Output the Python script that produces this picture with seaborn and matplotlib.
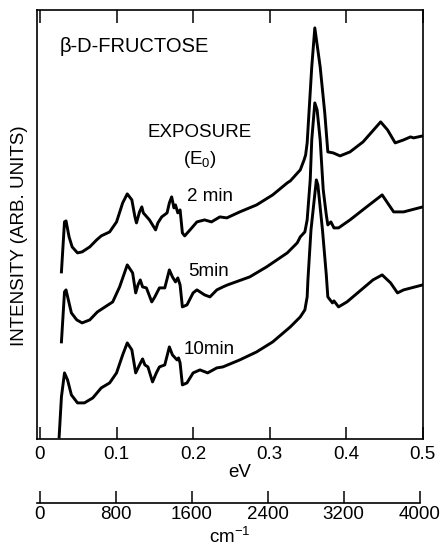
import numpy as np
import pandas as pd
import matplotlib
matplotlib.use('Agg')
import matplotlib.pyplot as plt
import seaborn as sns

# traces: energy loss (eV) vs intensity (arb. units)
ev_2min = [0.028, 0.032, 0.034, 0.038, 0.042, 0.049, 0.055, 0.065, 0.074, 0.080,
           0.091, 0.100, 0.108, 0.114, 0.120, 0.124, 0.126, 0.130, 0.133, 0.135,
           0.143, 0.151, 0.154, 0.159, 0.166, 0.169, 0.172, 0.175, 0.177, 0.180,
           0.183, 0.186, 0.189, 0.196, 0.205, 0.215, 0.224, 0.235, 0.244, 0.261,
           0.283, 0.304, 0.323, 0.327, 0.340, 0.345, 0.347, 0.349, 0.355, 0.359,
           0.366, 0.372, 0.376, 0.383, 0.392, 0.405, 0.422, 0.445, 0.454, 0.464,
           0.475, 0.484, 0.488, 0.500]
int_2min = [167, 217, 218, 202, 192, 186, 187, 192, 199, 203,
            207, 217, 236, 245, 239, 222, 216, 227, 232, 226,
            219, 209, 216, 222, 226, 236, 242, 231, 234, 226,
            229, 206, 203, 209, 217, 219, 217, 222, 221, 227,
            234, 244, 256, 258, 269, 279, 284, 296, 372, 411,
            372, 326, 287, 286, 283, 287, 297, 317, 309, 296,
            299, 302, 301, 303]

ev_5min = [0.028, 0.032, 0.034, 0.041, 0.048, 0.055, 0.065, 0.075, 0.087, 0.095,
           0.104, 0.114, 0.121, 0.125, 0.128, 0.131, 0.134, 0.139, 0.146, 0.150,
           0.156, 0.163, 0.169, 0.173, 0.177, 0.180, 0.183, 0.186, 0.192, 0.200,
           0.205, 0.215, 0.222, 0.231, 0.239, 0.245, 0.274, 0.296, 0.323, 0.336,
           0.340, 0.346, 0.349, 0.353, 0.355, 0.359, 0.362, 0.366, 0.370, 0.374,
           0.376, 0.380, 0.384, 0.390, 0.405, 0.425, 0.447, 0.454, 0.462, 0.475,
           0.500]
int_5min = [97, 147, 149, 126, 119, 116, 119, 127, 133, 137,
            152, 174, 166, 146, 154, 159, 152, 151, 137, 142,
            151, 151, 169, 162, 157, 161, 154, 132, 134, 146,
            149, 144, 142, 149, 152, 154, 162, 172, 186, 196,
            202, 207, 219, 259, 299, 336, 329, 299, 249, 224,
            214, 217, 211, 211, 219, 231, 244, 236, 227, 227,
            232]

ev_10min = [0.025, 0.028, 0.032, 0.036, 0.041, 0.049, 0.058, 0.069, 0.080, 0.091,
            0.100, 0.108, 0.114, 0.120, 0.125, 0.130, 0.134, 0.137, 0.141, 0.147,
            0.152, 0.156, 0.163, 0.169, 0.173, 0.179, 0.181, 0.183, 0.186, 0.192,
            0.200, 0.209, 0.219, 0.231, 0.239, 0.261, 0.283, 0.304, 0.327, 0.340,
            0.346, 0.349, 0.350, 0.354, 0.361, 0.363, 0.369, 0.374, 0.376, 0.382,
            0.384, 0.390, 0.401, 0.435, 0.447, 0.458, 0.467, 0.475, 0.500]
int_10min = [2, 42, 66, 59, 44, 36, 36, 41, 51, 56,
             66, 84, 96, 89, 66, 74, 80, 74, 72, 57,
             66, 72, 74, 92, 84, 79, 81, 76, 54, 56,
             66, 69, 66, 71, 72, 79, 87, 97, 112, 122,
             129, 142, 159, 209, 259, 254, 209, 164, 142, 136,
             138, 132, 137, 159, 164, 156, 146, 149, 154]

exposures = ['2 min', '5min', '10min']
label_ev = [0.192, 0.193, 0.188]
label_int = [242, 167, 89]

ev_ticks = [0, 0.1, 0.2, 0.3, 0.4, 0.5]
ev_ticklabels = ['0', '0.1', '0.2', '0.3', '0.4', '0.5']
cm_ticks = [0, 800, 1600, 2400, 3200, 4000]

EV_TO_CM = 8065.54

df = pd.concat([
    pd.DataFrame({'eV': ev_2min, 'intensity': int_2min, 'exposure': exposures[0]}),
    pd.DataFrame({'eV': ev_5min, 'intensity': int_5min, 'exposure': exposures[1]}),
    pd.DataFrame({'eV': ev_10min, 'intensity': int_10min, 'exposure': exposures[2]}),
], ignore_index=True)

plt.rcParams['font.family'] = ['Liberation Sans', 'DejaVu Sans']
plt.rcParams['mathtext.default'] = 'regular'

fig = plt.figure(figsize=(4.45, 5.5), dpi=100)
ax = fig.add_axes([0.083, 0.202, 0.867, 0.780])

sns.lineplot(data=df, x='eV', y='intensity', hue='exposure', units='exposure',
             estimator=None, sort=False, palette=['black'] * 3, linewidth=2.1,
             legend=False, ax=ax)

ax.set_xlim(-0.004, 0.5)
ax.set_ylim(0, 429)
ax.set_yticks([])
ax.set_xticks(ev_ticks)
ax.set_xticklabels(ev_ticklabels)
ax.tick_params(axis='x', direction='in', length=9, width=1.1, top=True,
               labelsize=13.5, pad=5)
for s in ax.spines.values():
    s.set_linewidth(1.2)

ax.set_xlabel('eV', fontsize=13.5)
ax.xaxis.set_label_coords(0.526, -0.058)
ax.set_ylabel('INTENSITY (ARB. UNITS)', fontsize=13.5)
ax.yaxis.set_label_coords(-0.022, 0.473)

# wavenumber scale below the energy axis
sec = ax.secondary_xaxis(-64 / 429, functions=(lambda e: e * EV_TO_CM,
                                                lambda c: c / EV_TO_CM))
sec.set_xticks(cm_ticks)
sec.set_xticklabels([str(c) for c in cm_ticks])
sec.tick_params(direction='in', length=9, width=1.1, labelsize=13.5, pad=2)
sec.spines['bottom'].set_linewidth(1.2)
sec.spines['bottom'].set_bounds(-0.004 * EV_TO_CM, 4000)
sec.set_xlabel('cm$^{-1}$', fontsize=13.5, labelpad=3)

ax.text(0.025, 392, 'β-D-FRUCTOSE', fontsize=14.5, va='center', ha='left')
ax.text(0.209, 306, 'EXPOSURE', fontsize=13.5, va='center', ha='center')
ax.text(0.209, 279, '(E$_0$)', fontsize=13.5, va='center', ha='center')
for lab, x, y in zip(exposures, label_ev, label_int):
    ax.text(x, y, lab, fontsize=13.5, va='center', ha='left')

fig.savefig('out.png', dpi=100)
